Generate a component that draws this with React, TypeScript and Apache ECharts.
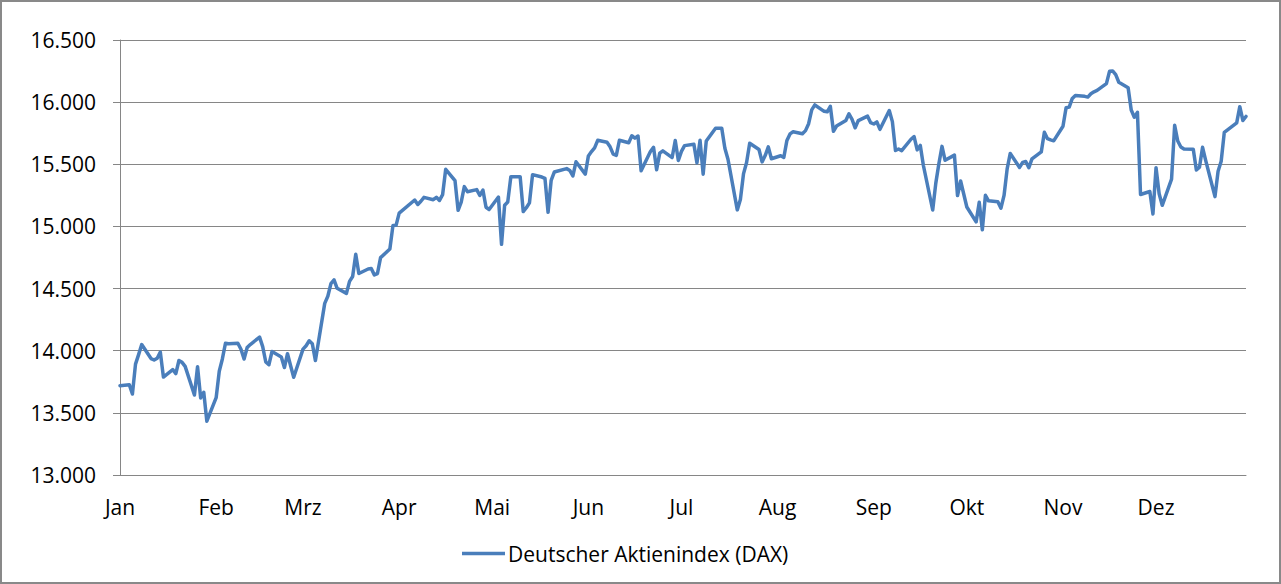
import React, { useEffect, useRef } from "react";
import * as echarts from "echarts";

// DAX closing values 2021, [day of month, close]
const jan: [number, number][] = [[1,13718.78],[4,13726.74],[5,13651.22],[6,13891.97],[7,13968.24],[8,14049.53],[11,13936.66],[12,13925.06],[13,13939.71],[14,13988.70],[15,13787.73],[18,13848.35],[19,13815.06],[20,13921.36],[21,13906.67],[22,13873.97],[25,13643.95],[26,13870.99],[27,13620.46],[28,13665.93],[29,13432.87]];
const feb: [number, number][] = [[1,13622.02],[2,13835.16],[3,13933.63],[4,14060.29],[5,14056.72],[8,14059.59],[9,14011.80],[10,13932.97],[11,14025.77],[12,14049.93],[15,14109.48],[16,14033.24],[17,13909.27],[18,13886.93],[19,13993.23],[22,13950.04],[23,13864.81],[24,13976.00],[25,13879.33],[26,13786.29]];
const mar: [number, number][] = [[1,14012.82],[2,14039.80],[3,14080.03],[4,14056.34],[5,13920.69],[8,14380.91],[9,14437.94],[10,14540.24],[11,14569.39],[12,14502.39],[15,14461.42],[16,14557.58],[17,14596.61],[18,14775.52],[19,14621.36],[22,14657.21],[23,14662.02],[24,14610.26],[25,14621.00],[26,14748.94],[29,14817.72],[30,15008.34],[31,15008.61]];
const apr: [number, number][] = [[1,15107.17],[6,15212.68],[7,15176.36],[8,15202.68],[9,15234.16],[12,15215.00],[13,15234.36],[14,15209.23],[15,15255.33],[16,15459.75],[19,15368.39],[20,15129.51],[21,15195.97],[22,15320.52],[23,15279.62],[26,15296.33],[27,15249.27],[28,15292.14],[29,15154.17],[30,15135.91]];
const may: [number, number][] = [[3,15236.47],[4,14856.48],[5,15170.78],[6,15196.97],[7,15399.65],[10,15400.41],[11,15119.75],[12,15150.22],[13,15190.00],[14,15416.64],[17,15397.22],[18,15386.58],[19,15113.56],[20,15370.26],[21,15437.51],[25,15465.09],[26,15450.72],[27,15406.74],[28,15519.98],[31,15421.13]];
const jun: [number, number][] = [[1,15567.36],[2,15602.71],[3,15632.67],[4,15692.90],[7,15677.15],[8,15640.60],[9,15581.22],[10,15571.22],[11,15693.27],[14,15673.64],[15,15729.52],[16,15710.57],[17,15727.67],[18,15448.04],[21,15603.24],[22,15636.43],[23,15456.39],[24,15589.23],[25,15607.97],[28,15554.18],[29,15690.99],[30,15531.04]];
const jul: [number, number][] = [[1,15603.81],[2,15650.09],[5,15661.97],[6,15511.38],[7,15692.71],[8,15420.64],[9,15687.93],[12,15790.51],[13,15789.98],[14,15788.98],[15,15629.66],[16,15540.31],[19,15133.20],[20,15216.27],[21,15422.50],[22,15514.98],[23,15669.29],[26,15618.98],[27,15519.13],[28,15570.36],[29,15640.47],[30,15544.39]];
const aug: [number, number][] = [[2,15568.73],[3,15555.08],[4,15692.13],[5,15744.67],[6,15761.45],[9,15745.41],[10,15770.71],[11,15826.38],[12,15937.51],[13,15977.44],[16,15925.95],[17,15921.95],[18,15965.97],[19,15765.81],[20,15808.04],[23,15852.79],[24,15905.85],[25,15860.66],[26,15793.62],[27,15851.75],[30,15887.31],[31,15835.09]];
const sep: [number, number][] = [[1,15824.29],[2,15840.59],[3,15781.20],[6,15932.12],[7,15843.09],[8,15610.99],[9,15623.15],[10,15609.81],[13,15701.42],[14,15722.99],[15,15616.00],[16,15651.75],[17,15490.17],[20,15132.06],[21,15348.53],[22,15506.74],[23,15643.97],[24,15531.75],[27,15573.88],[28,15248.56],[29,15365.27],[30,15260.69]];
const oct: [number, number][] = [[1,15156.44],[4,15036.55],[5,15194.49],[6,14973.33],[7,15250.89],[8,15206.13],[11,15199.14],[12,15146.87],[13,15249.38],[14,15462.72],[15,15587.36],[18,15474.47],[19,15515.83],[20,15522.92],[21,15472.56],[22,15542.98],[25,15599.23],[26,15757.06],[27,15705.81],[28,15696.33],[29,15688.77]];
const nov: [number, number][] = [[1,15806.29],[2,15954.45],[3,15959.98],[4,16029.65],[5,16054.36],[8,16046.81],[9,16040.54],[10,16067.83],[11,16083.11],[12,16094.07],[15,16148.64],[16,16247.86],[17,16251.13],[18,16221.73],[19,16159.97],[22,16115.69],[23,15937.04],[24,15878.39],[25,15917.98],[26,15257.04],[29,15280.86],[30,15100.13]];
const dec: [number, number][] = [[1,15472.67],[2,15263.11],[3,15169.98],[6,15380.12],[7,15813.94],[8,15687.09],[9,15639.26],[10,15623.31],[13,15621.72],[14,15453.56],[15,15476.35],[16,15636.38],[17,15531.69],[20,15239.67],[21,15443.46],[22,15524.21],[23,15756.31],[27,15833.61],[28,15963.70],[29,15852.25],[30,15884.86]];

const monthLabels = ["Jan", "Feb", "Mrz", "Apr", "Mai", "Jun", "Jul", "Aug", "Sep", "Okt", "Nov", "Dez"];
const seriesName = "Deutscher Aktienindex (DAX)";
const yMin = 13000;
const yMax = 16500;
const yStep = 500;

const YEAR = 2021;
const months = [jan, feb, mar, apr, may, jun, jul, aug, sep, oct, nov, dec];

const FONT = "'Open Sans', 'Noto Sans', sans-serif";
const DAY = 86400000;

function fmtThousands(v: number): string {
  const s = String(Math.round(v));
  if (s.length <= 3) return s;
  return s.slice(0, s.length - 3) + "." + s.slice(-3);
}

// day index since Jan 1 (UTC-based, so no DST issues)
function dayIndex(m: number, d: number): number {
  return Math.round((Date.UTC(YEAR, m, d) - Date.UTC(YEAR, 0, 1)) / DAY);
}

export default function App() {
  const ref = useRef<HTMLDivElement>(null);

  useEffect(() => {
    if (!ref.current) return;
    const chart = echarts.init(ref.current, undefined, { renderer: "svg" });

    const data = months.flatMap((arr, m) => arr.map(([d, v]) => [dayIndex(m, d), v]));
    const monthStarts = monthLabels.map((_, m) => dayIndex(m, 1));
    const xMin = 0;
    const xMax = dayIndex(11, dec[dec.length - 1][0]);

    chart.setOption({
      animation: false,
      backgroundColor: "#ffffff",
      graphic: [
        {
          type: "rect",
          shape: { x: 1, y: 1, width: 1279, height: 582 },
          style: { fill: "none", stroke: "#898989", lineWidth: 2 },
          silent: true,
          z: 100,
        },
      ],
      grid: { left: 120, right: 35, top: 40, bottom: 109, containLabel: false },
      legend: {
        data: [seriesName],
        top: 538,
        left: 457,
        icon: "rect",
        itemWidth: 43,
        itemHeight: 3.5,
        itemGap: 10,
        textStyle: { fontFamily: FONT, fontSize: 21, color: "#000000", padding: [0, 0, 0, -2] },
      },
      xAxis: {
        type: "value",
        min: xMin,
        max: xMax,
        axisLine: { show: true, lineStyle: { color: "#868686", width: 1 } },
        axisTick: { show: false },
        splitLine: { show: false },
        axisLabel: {
          customValues: monthStarts,
          formatter: (v: number) => {
            const i = monthStarts.indexOf(Math.round(v));
            return i >= 0 ? monthLabels[i] : "";
          },
          fontFamily: FONT,
          fontSize: 21,
          color: "#000000",
          margin: 21,
          showMinLabel: true,
          showMaxLabel: true,
          hideOverlap: false,
        },
      },
      yAxis: {
        type: "value",
        min: yMin,
        max: yMax,
        interval: yStep,
        axisLine: { show: true, lineStyle: { color: "#868686", width: 1 } },
        axisTick: { show: true, length: 7, lineStyle: { color: "#868686" } },
        splitLine: { show: true, lineStyle: { color: "#868686", width: 1 } },
        axisLabel: {
          formatter: (v: number) => fmtThousands(v),
          fontFamily: FONT,
          fontSize: 21,
          color: "#000000",
          margin: 24,
        },
      },
      series: [
        {
          name: seriesName,
          type: "line",
          data,
          showSymbol: false,
          symbol: "none",
          lineStyle: { color: "#4A7EBB", width: 3.5, join: "round", cap: "round" },
          itemStyle: { color: "#4A7EBB" },
        },
      ],
    });

    return () => chart.dispose();
  }, []);

  return (
    <div
      ref={ref}
      style={{ position: "fixed", left: 0, top: 0, width: 1281, height: 584 }}
    />
  );
}
